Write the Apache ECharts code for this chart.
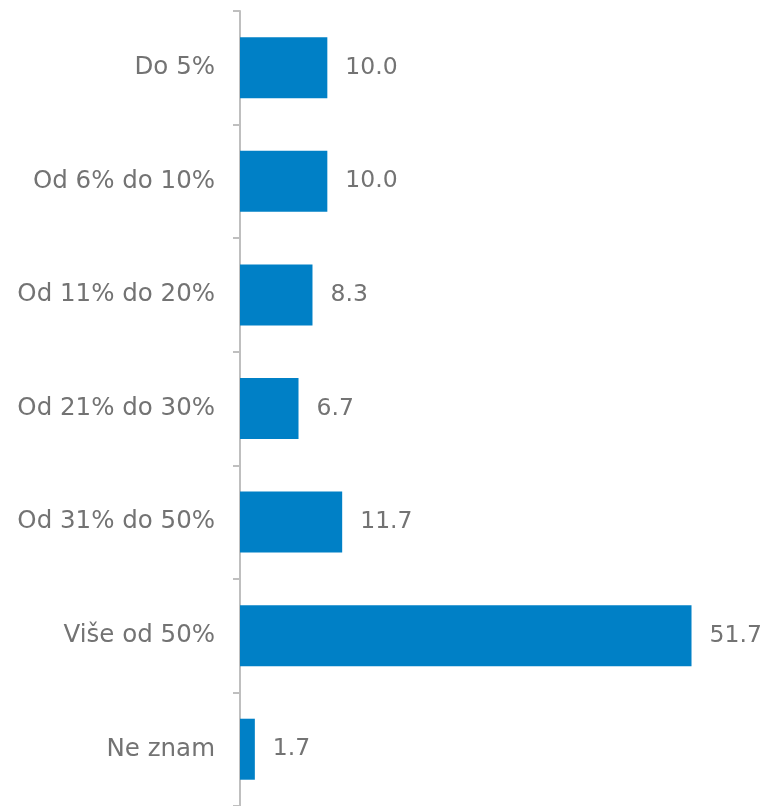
<!DOCTYPE html>
<html>
<head>
<meta charset="utf-8">
<script src="https://cdn.jsdelivr.net/npm/echarts@6/dist/echarts.min.js"></script>
<style>
  html, body { margin: 0; padding: 0; background: #ffffff; }
  #chart { width: 764px; height: 806px; }
</style>
</head>
<body>
<div id="chart"></div>
<script>
// Response categories, top to bottom
const categories = ['Do 5%', 'Od 6% do 10%', 'Od 11% do 20%', 'Od 21% do 30%', 'Od 31% do 50%', 'Više od 50%', 'Ne znam'];
// Share of respondents (%)
const values = [10.0, 10.0, 8.3, 6.7, 11.7, 51.7, 1.7];

const textColor = '#737373';
const fontFamily = '"DejaVu Sans", sans-serif';

const chart = echarts.init(document.getElementById('chart'), null, { renderer: 'canvas' });
chart.setOption({
  animation: false,
  backgroundColor: '#ffffff',
  grid: { left: 240, top: 11, width: 530, height: 798, containLabel: false },
  xAxis: {
    type: 'value',
    min: 0,
    max: 60,
    show: false
  },
  yAxis: {
    type: 'category',
    data: categories,
    inverse: true,
    axisLine: { show: true, lineStyle: { color: '#bfbfbf', width: 2 } },
    axisTick: { show: true, length: 7, lineStyle: { color: '#bfbfbf', width: 2 } },
    axisLabel: { margin: 25, color: textColor, fontSize: 24.5, fontFamily: fontFamily }
  },
  series: [{
    type: 'bar',
    data: values,
    barWidth: 61,
    itemStyle: { color: '#0080c6' },
    label: {
      show: true,
      position: 'right',
      distance: 18,
      color: textColor,
      fontSize: 23.5,
      fontFamily: fontFamily,
      formatter: p => p.value.toFixed(1)
    }
  }]
});
</script>
</body>
</html>
